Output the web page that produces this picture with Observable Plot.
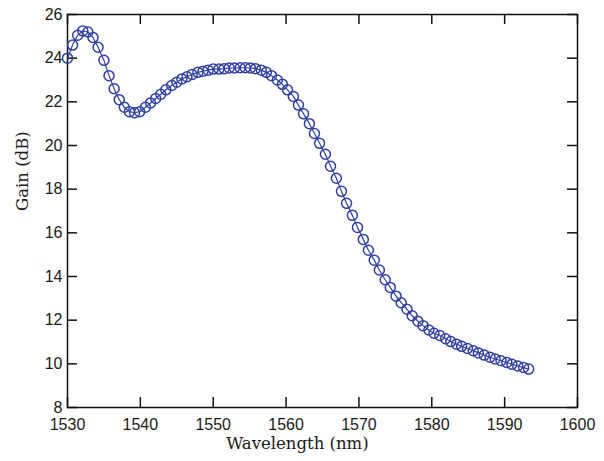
<!DOCTYPE html>
<html>
<head>
<meta charset="utf-8">
<script src="https://cdn.jsdelivr.net/npm/d3@7"></script>
<script src="https://cdn.jsdelivr.net/npm/@observablehq/plot@0.6"></script>
<style>
  html, body { margin: 0; padding: 0; background: #fff; }
  #chart { width: 604px; height: 461px; }
</style>
</head>
<body>
<div id="chart"></div>
<script>
const wavelength = [1530.0, 1530.7, 1531.4, 1532.1, 1532.8, 1533.5, 1534.2, 1535.0, 1535.7, 1536.4,
  1537.1, 1537.8, 1538.5, 1539.2, 1539.9, 1540.7, 1541.4, 1542.1, 1542.8, 1543.5,
  1544.3, 1545.0, 1545.7, 1546.4, 1547.1, 1547.9, 1548.6, 1549.3, 1550.0, 1550.8,
  1551.5, 1552.2, 1552.9, 1553.7, 1554.4, 1555.1, 1555.8, 1556.6, 1557.3, 1558.0,
  1558.8, 1559.5, 1560.2, 1561.0, 1561.7, 1562.4, 1563.2, 1563.9, 1564.6, 1565.4,
  1566.1, 1566.9, 1567.6, 1568.3, 1569.1, 1569.8, 1570.6, 1571.3, 1572.1, 1572.8,
  1573.6, 1574.3, 1575.1, 1575.8, 1576.6, 1577.3, 1578.1, 1578.8, 1579.6, 1580.3,
  1581.1, 1581.9, 1582.6, 1583.4, 1584.1, 1584.9, 1585.7, 1586.4, 1587.2, 1588.0,
  1588.7, 1589.5, 1590.3, 1591.0, 1591.8, 1592.6, 1593.3];
const gain = [24.0, 24.6, 25.05, 25.25, 25.2, 24.95, 24.5, 23.9, 23.2, 22.6,
  22.1, 21.75, 21.55, 21.5, 21.55, 21.75, 21.95, 22.15, 22.35, 22.55,
  22.75, 22.9, 23.05, 23.15, 23.25, 23.35, 23.4, 23.45, 23.5, 23.5,
  23.52, 23.55, 23.55, 23.56, 23.56, 23.55, 23.52, 23.45, 23.35, 23.2,
  23.0, 22.8, 22.55, 22.25, 21.85, 21.45, 21.0, 20.55, 20.1, 19.6,
  19.05, 18.5, 17.9, 17.35, 16.8, 16.25, 15.7, 15.2, 14.75, 14.3,
  13.85, 13.5, 13.1, 12.8, 12.5, 12.2, 11.95, 11.75, 11.55, 11.4,
  11.3, 11.15, 11.02, 10.9, 10.8, 10.7, 10.6, 10.5, 10.4, 10.3,
  10.22, 10.14, 10.06, 9.98, 9.9, 9.83, 9.76];
const xTicks = [1530, 1540, 1550, 1560, 1570, 1580, 1590, 1600];
const yTicks = [8, 10, 12, 14, 16, 18, 20, 22, 24, 26];
const xLabel = "Wavelength (nm)";
const yLabel = "Gain (dB)";

const data = wavelength.map((w, i) => ({w, g: gain[i]}));

const W = 604, H = 461;
const mL = 67, mR = 27, mT = 14, mB = 54;
const innerW = W - mL - mR, innerH = H - mT - mB;
const tickLen = 10;
const color = "#3140a0";
const tickFont = "'Liberation Sans', Arial, sans-serif";
const labelFont = "'DejaVu Serif', serif";

const chart = Plot.plot({
  width: W, height: H,
  marginLeft: mL, marginRight: mR, marginTop: mT, marginBottom: mB,
  style: {fontFamily: tickFont, background: "#fff", color: "#1a1a1a"},
  x: {domain: [1530, 1600]},
  y: {domain: [8, 26]},
  marks: [
    Plot.frame({stroke: "#111", strokeWidth: 1.5}),
    Plot.ruleX(xTicks, {x: d => d, insetTop: innerH - tickLen, stroke: "#111", strokeWidth: 1.5}),
    Plot.ruleX(xTicks, {x: d => d, insetBottom: innerH - tickLen, stroke: "#111", strokeWidth: 1.5}),
    Plot.ruleY(yTicks, {y: d => d, insetRight: innerW - tickLen, stroke: "#111", strokeWidth: 1.5}),
    Plot.ruleY(yTicks, {y: d => d, insetLeft: innerW - tickLen, stroke: "#111", strokeWidth: 1.5}),
    Plot.axisX({ticks: xTicks, tickSize: 0, tickPadding: 11, label: null, fontSize: 16, tickFormat: d => String(d)}),
    Plot.axisY({ticks: yTicks, tickSize: 0, tickPadding: 5, label: null, fontSize: 16, tickFormat: d => String(d)}),
    Plot.line(data, {x: "w", y: "g", stroke: color, strokeWidth: 1.2}),
    Plot.dot(data, {x: "w", y: "g", r: 5, stroke: color, strokeWidth: 1.5, fill: "none"}),
    Plot.text([xLabel], {frameAnchor: "bottom", dy: 41, dx: -25, fontFamily: labelFont, fontSize: 16.5, fill: "#1a1a1a", text: d => d}),
    Plot.text([yLabel], {frameAnchor: "left", rotate: -90, dx: -45, fontFamily: labelFont, fontSize: 16.5, fill: "#1a1a1a", text: d => d})
  ]
});
document.getElementById("chart").appendChild(chart);
</script>
</body>
</html>
